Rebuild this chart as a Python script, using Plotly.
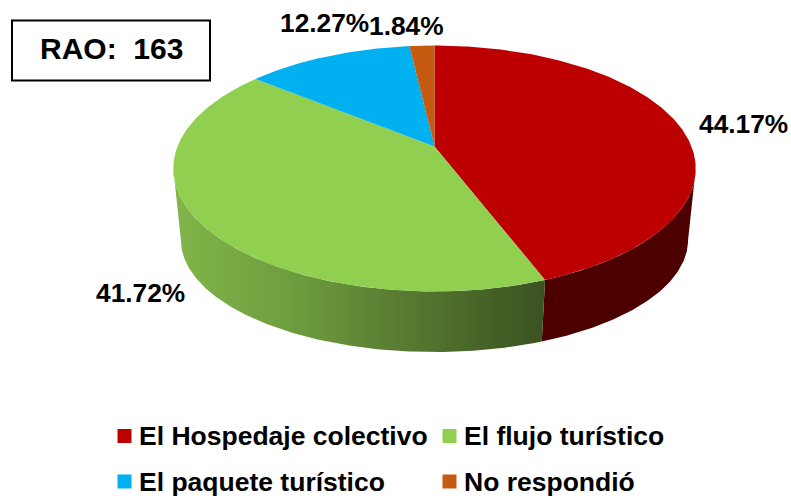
"""3D-looking pie of the RAO 163 answers, built from filled scatter slices."""

import numpy as np
import plotly.graph_objects as go

labels = ["El Hospedaje colectivo", "El flujo turístico", "El paquete turístico", "No respondió"]
values = [44.17, 41.72, 12.27, 1.84]
value_text = ["44.17%", "41.72%", "12.27%", "1.84%"]
colors = ["#BC0000", "#90CF50", "#00B0F0", "#C55A11"]

label_x = [697, 94, 278, 367]
label_y = [123.5, 293, 23, 25.5]
legend_x = [124.5, 449.5, 124.5, 449.5]
legend_y = [436, 436, 481.5, 481.5]
text_x = [136.5, 461.5, 136.5, 461.5]

FONT = "Liberation Sans"
CX = 434.5
PERSP = 0.179


def project(theta, top=True):
    """Map a clockwise angle on the pie circle to screen pixels, with perspective."""
    u = np.sin(theta)
    v = np.cos(theta)
    den = PERSP * v + 1
    if top:
        return CX + 257 * u / den, (-92.8 * v + 146.5) / den
    return CX + 249.5 * u / den, (-69 * v + 220) / den


fig = go.Figure()

edges = np.cumsum([0] + values) / sum(values) * 2 * np.pi
# only this part of the rim is visible, the ends are the widest points of the disc
rim_start = np.arccos(-PERSP)
rim_end = 2 * np.pi - rim_start

# side walls first, the top disc goes over them
sides = [
    dict(fillcolor="#4D0000"),
    dict(
        fillcolor="rgba(0,0,0,0)",
        fillgradient=dict(
            type="horizontal",
            colorscale=[
                [0, "#82B54A"],
                [0.3, "#6F9F3F"],
                [0.65, "#557730"],
                [1, "#3A5220"],
            ],
        ),
    ),
]
for i, side in enumerate(sides):
    t = np.linspace(max(edges[i], rim_start), min(edges[i + 1], rim_end), 200)
    x1, y1 = project(t, True)
    x2, y2 = project(t[::-1], False)
    fig.add_trace(
        go.Scatter(
            x=np.r_[x1, x2],
            y=np.r_[y1, y2],
            mode="lines",
            line=dict(width=0),
            fill="toself",
            hoverinfo="skip",
            showlegend=False,
            **side,
        )
    )

# top face
for i, name in enumerate(labels):
    t = np.linspace(edges[i], edges[i + 1], 200)
    x1, y1 = project(t, True)
    fig.add_trace(
        go.Scatter(
            x=np.r_[CX, x1, CX],
            y=np.r_[146.5, y1, 146.5],
            mode="lines",
            line=dict(width=0),
            fill="toself",
            fillcolor=colors[i],
            name=name,
            text=value_text[i],
            hoverinfo="name+text",
            showlegend=False,
        )
    )

# legend squares
fig.add_trace(
    go.Scatter(
        x=legend_x,
        y=legend_y,
        mode="markers",
        marker=dict(symbol="square", size=14, color=colors),
        hoverinfo="skip",
        showlegend=False,
    )
)

for i, name in enumerate(labels):
    fig.add_annotation(
        x=text_x[i], y=legend_y[i], text=f"<b>{name}</b>", showarrow=False,
        xanchor="left", yanchor="middle",
        font=dict(family=FONT, size=26.5, color="#000000"),
    )
    fig.add_annotation(
        x=label_x[i], y=label_y[i], text=f"<b>{value_text[i]}</b>", showarrow=False,
        xanchor="left", yanchor="middle",
        font=dict(family=FONT, size=26.3, color="#000000"),
    )

fig.add_shape(
    type="rect", x0=12, x1=210, y0=20.5, y1=80.5,
    line=dict(color="#000000", width=2), fillcolor="#FFFFFF",
)
fig.add_annotation(
    x=111, y=48.5, text="<b>RAO:  163</b>", showarrow=False,
    font=dict(family=FONT, size=30, color="#000000"),
)

fig.update_xaxes(range=[0, 791], visible=False, fixedrange=True)
fig.update_yaxes(range=[498, 0], visible=False, fixedrange=True)
fig.update_layout(
    width=791,
    height=498,
    margin=dict(l=0, r=0, t=0, b=0),
    plot_bgcolor="#FFFFFF",
    paper_bgcolor="#FFFFFF",
    showlegend=False,
)

# the browser's default body margin would push the chart off the window
fig.write_html(
    "out.html",
    config=dict(displayModeBar=False),
    post_script="document.body.style.margin = '0';",
)
